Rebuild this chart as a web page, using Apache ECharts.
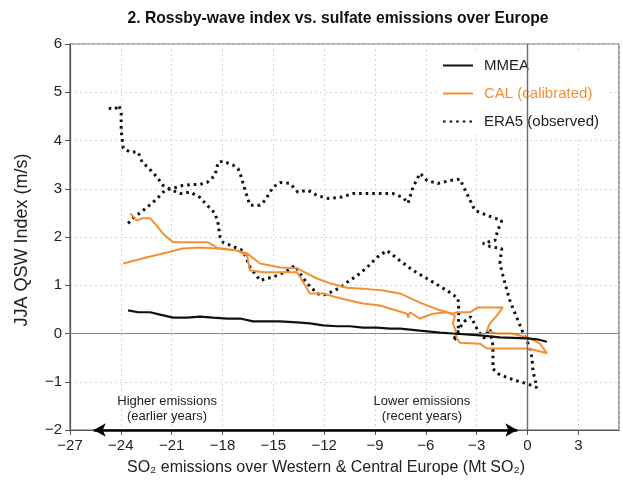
<!DOCTYPE html>
<html>
<head>
<meta charset="utf-8">
<script src="https://cdn.jsdelivr.net/npm/echarts@6/dist/echarts.min.js"></script>
<style>
  html, body { margin: 0; padding: 0; background: #fff; }
  #chart { width: 623px; height: 485px; }
</style>
</head>
<body>
<div id="chart"></div>
<script>
// Multi-model ensemble mean: SO2 emissions (Mt SO2) vs. JJA QSW index (m/s)
const mmeaEmis  = [-23.57, -22.98, -22.27, -21.68, -20.92, -20.09, -19.33, -18.56, -17.73, -16.96, -16.19, -15.37, -14.61, -13.60, -12.84, -12.07, -11.24, -10.48, -9.71, -8.88, -8.12, -7.53, -6.35, -5.16, -4.40, -2.81, -1.63, -0.04, 0.55, 1.14];
const mmeaIndex = [0.48, 0.44, 0.44, 0.39, 0.33, 0.33, 0.35, 0.33, 0.31, 0.31, 0.25, 0.25, 0.25, 0.23, 0.21, 0.17, 0.15, 0.15, 0.12, 0.12, 0.10, 0.10, 0.06, 0.02, 0.00, -0.04, -0.08, -0.10, -0.12, -0.17];

// Calibrated ensemble
const calEmis  = [-23.86, -22.45, -21.27, -20.33, -19.33, -18.32, -17.14, -16.55, -15.78, -14.61, -13.60, -12.42, -11.65, -10.65, -9.71, -8.53, -7.53, -6.35, -5.16, -4.40, -4.17, -3.40, -2.93, -1.45, -1.81, -2.22, -2.40, -1.81, -0.92, 0.14, 0.73, 1.15, 0.32, -0.04, -2.40, -2.81, -3.99, -4.17, -4.28, -4.40, -4.28, -4.75, -5.58, -6.35, -6.94, -7.05, -7.11, -8.71, -9.71, -11.07, -12.07, -12.84, -13.60, -15.61, -16.38, -16.55, -17.14, -18.32, -18.85, -20.92, -21.51, -21.80, -22.27, -22.74, -23.04, -23.45];
const calIndex = [1.45, 1.58, 1.68, 1.76, 1.78, 1.76, 1.72, 1.66, 1.45, 1.37, 1.35, 1.14, 1.04, 0.95, 0.93, 0.89, 0.83, 0.64, 0.48, 0.41, 0.44, 0.44, 0.54, 0.54, 0.37, 0.21, 0.06, 0.00, 0.00, -0.10, -0.21, -0.41, -0.33, -0.31, -0.31, -0.21, -0.19, -0.10, 0.10, 0.21, 0.37, 0.44, 0.41, 0.31, 0.44, 0.33, 0.41, 0.58, 0.62, 0.73, 0.83, 0.83, 1.27, 1.27, 1.31, 1.62, 1.72, 1.78, 1.89, 1.89, 2.07, 2.20, 2.39, 2.39, 2.34, 2.49];

// ERA5 reanalysis
const era5Emis  = [-23.57, -23.28, -22.69, -22.16, -21.80, -21.39, -20.92, -20.33, -19.74, -19.33, -18.91, -18.44, -18.26, -17.97, -17.38, -17.09, -16.96, -16.67, -16.38, -15.79, -15.49, -15.02, -14.61, -14.02, -13.55, -12.96, -12.42, -11.78, -11.07, -10.30, -9.48, -8.71, -7.94, -7.35, -7.05, -6.76, -6.34, -5.93, -5.29, -4.58, -3.99, -3.58, -3.10, -2.40, -1.52, -1.75, -1.92, -2.63, -2.20, -1.52, -1.63, -1.33, -1.04, -0.63, -0.27, 0.14, 0.26, 0.32, 0.55,
  -0.04, -0.63, -1.22, -1.75, -2.04, -2.04, -2.22, -2.57, -2.93, -3.34, -3.81, -4.16, -4.40, -4.10, -4.05, -4.10, -4.75, -5.75, -6.76, -7.53, -8.29, -8.88, -9.47, -10.06, -10.65, -11.06, -11.65, -12.07, -12.42, -13.01, -13.42, -13.72, -14.13, -14.78, -15.37, -15.78, -16.37, -16.79, -17.55, -17.97, -18.14, -18.26, -18.44, -18.91, -19.33, -19.91, -20.50, -20.98, -21.51, -21.86, -22.39, -22.74, -22.98, -23.45, -23.86, -23.98, -23.98, -24.10, -24.34, -24.75];
const era5Index = [2.28, 2.39, 2.55, 2.70, 2.82, 2.97, 3.01, 3.07, 3.09, 3.09, 3.13, 3.28, 3.55, 3.57, 3.49, 3.42, 3.32, 2.97, 2.66, 2.66, 2.76, 3.03, 3.13, 3.11, 2.93, 2.97, 2.86, 2.80, 2.82, 2.90, 2.90, 2.90, 2.90, 2.82, 2.70, 3.03, 3.32, 3.17, 3.11, 3.17, 3.20, 2.90, 2.55, 2.45, 2.34, 2.14, 1.93, 1.87, 1.80, 1.76, 1.45, 1.04, 0.68, 0.33, 0.02, -0.29, -0.50, -0.77, -1.12,
  -1.04, -0.98, -0.91, -0.83, -0.73, -0.25, 0.10, -0.10, 0.06, 0.35, 0.23, 0.00, -0.15, -0.06, 0.48, 0.73, 0.89, 1.10, 1.31, 1.51, 1.72, 1.58, 1.37, 1.20, 1.06, 0.95, 0.85, 0.79, 0.83, 1.04, 1.24, 1.41, 1.31, 1.20, 1.14, 1.10, 1.37, 1.72, 1.83, 1.89, 1.99, 2.28, 2.49, 2.66, 2.82, 2.93, 2.90, 2.97, 3.07, 3.24, 3.44, 3.55, 3.76, 3.76, 3.84, 4.21, 4.56, 4.73, 4.65, 4.67];

// Axis ranges and annotations
const xRange = [-27, 5.4];
const yRange = [-2, 6];
const notes = [
  { x: -21.27, y: -1.57, text: 'Higher emissions\n(earlier years)' },
  { x: -6.23,  y: -1.57, text: 'Lower emissions\n(recent years)' }
];
const arrowSpan = [-25.6, -0.6];

const FONT = '"Liberation Sans", Arial, Helvetica, sans-serif';
const ORANGE = '#f39033';
const INK = '#222';

const zip = (xs, ys) => xs.map((x, i) => [x, ys[i]]);
const minus = v => (v < 0 ? '\u2212' + Math.abs(v) : String(v));

const chart = echarts.init(document.getElementById('chart'), null, { renderer: 'canvas' });

chart.setOption({
  backgroundColor: '#fff',
  animation: false,
  grid: {
    left: 70, right: 4, top: 44, bottom: 55,
    show: true, borderColor: '#666', borderWidth: 1.2, backgroundColor: 'transparent'
  },
  graphic: [
    {
      type: 'text', x: 338, y: 19, z: 10,
      style: {
        text: '2. Rossby-wave index vs. sulfate emissions over Europe',
        font: 'bold 15.7px ' + FONT, fill: '#111',
        textAlign: 'center', textVerticalAlign: 'middle'
      }
    },
    {
      type: 'text', x: 22, y: 240, rotation: Math.PI / 2, z: 10,
      style: {
        text: 'JJA QSW Index (m/s)', font: '18px ' + FONT, fill: INK,
        textAlign: 'center', textVerticalAlign: 'middle'
      }
    },
    {
      type: 'text', x: 326, y: 468, z: 10,
      style: {
        text: 'SO\u2082 emissions over Western & Central Europe (Mt SO\u2082)',
        font: '16px ' + FONT, fill: INK,
        textAlign: 'center', textVerticalAlign: 'middle'
      }
    }
  ],
  legend: {
    orient: 'vertical', left: 438, top: 52,
    itemWidth: 30, itemHeight: 14, itemGap: 13,
    backgroundColor: '#fff', padding: [6, 10, 6, 4],
    itemStyle: { opacity: 0 },
    textStyle: { fontFamily: FONT, fontSize: 15, color: INK, padding: [0, 0, 0, 6] },
    data: [
      { name: 'MMEA' },
      { name: 'CAL (calibrated)', textStyle: { color: ORANGE } },
      { name: 'ERA5 (observed)' }
    ]
  },
  xAxis: {
    type: 'value', min: xRange[0], max: xRange[1], interval: 3,
    axisLine: { show: true, onZero: false, lineStyle: { color: '#555', width: 1.2 } },
    axisTick: { show: true, inside: false, length: 5, lineStyle: { color: '#555' } },
    axisLabel: {
      fontFamily: FONT, fontSize: 15, color: INK, margin: 8,
      showMaxLabel: false, formatter: minus
    },
    splitLine: { show: true, lineStyle: { color: '#d4d4d4', type: [2, 3], width: 1 } }
  },
  yAxis: {
    type: 'value', min: yRange[0], max: yRange[1], interval: 1,
    axisLine: { show: true, onZero: false, lineStyle: { color: '#555', width: 1.2 } },
    axisTick: { show: true, inside: false, length: 5, lineStyle: { color: '#555' } },
    axisLabel: { fontFamily: FONT, fontSize: 15, color: INK, margin: 8, formatter: minus },
    splitLine: { show: true, lineStyle: { color: '#d4d4d4', type: [2, 3], width: 1 } }
  },
  series: [
    {
      // reference lines, emissions arrow and annotations
      type: 'line', name: 'ref', data: [], z: 1, silent: true,
      markLine: {
        silent: true, symbol: 'none', animation: false,
        label: { show: false },
        data: [
          { yAxis: 0, lineStyle: { color: '#8a8a8a', width: 1.2, type: 'solid' } },
          { xAxis: 0, lineStyle: { color: '#6a6a6a', width: 1.4, type: 'solid' } },
          [
            { coord: [arrowSpan[0], yRange[0]], symbol: 'arrow', symbolSize: [10, 12] },
            { coord: [arrowSpan[1], yRange[0]], symbol: 'arrow', symbolSize: [10, 12],
              lineStyle: { color: '#000', width: 2.6, type: 'solid' } }
          ]
        ]
      },
      markPoint: {
        silent: true, symbol: 'circle', symbolSize: 0,
        label: {
          show: true, position: 'inside', fontFamily: FONT, fontSize: 13,
          color: INK, lineHeight: 15, align: 'center', verticalAlign: 'middle'
        },
        data: notes.map(n => ({ coord: [n.x, n.y], value: n.text, label: { formatter: n.text } }))
      }
    },
    {
      name: 'ERA5 (observed)', type: 'line', z: 3,
      data: zip(era5Emis, era5Index), showSymbol: false, symbol: 'none',
      lineStyle: { color: '#111', width: 3, type: [2.6, 4], cap: 'butt' },
      itemStyle: { color: '#111' }
    },
    {
      name: 'CAL (calibrated)', type: 'line', z: 4,
      data: zip(calEmis, calIndex), showSymbol: false, symbol: 'none',
      lineStyle: { color: ORANGE, width: 2 },
      itemStyle: { color: ORANGE }
    },
    {
      name: 'MMEA', type: 'line', z: 5,
      data: zip(mmeaEmis, mmeaIndex), showSymbol: false, symbol: 'none',
      lineStyle: { color: '#111', width: 2.2 },
      itemStyle: { color: '#111' }
    }
  ]
});
</script>
</body>
</html>
